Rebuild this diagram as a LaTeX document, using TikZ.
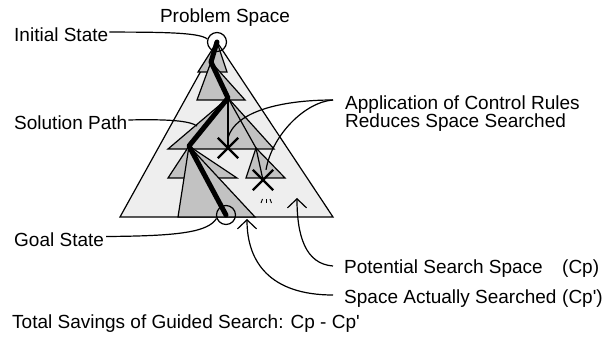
\documentclass[tikz,border=0pt]{standalone}
\usepackage{fontspec}
\newfontfamily\labfont{Liberation Sans}
\usetikzlibrary{arrows.meta,shapes.misc}
\definecolor{lightfill}{gray}{0.935}
\definecolor{treefill}{gray}{0.76}
\begin{document}
\begin{tikzpicture}[x=1pt,y=-1pt,
  lbl/.style={font=\labfont\fontsize{19}{18}\selectfont, inner sep=0pt, anchor=base west},
  space/.style={draw, line width=1.2pt, fill=lightfill, line join=miter},
  tier/.style={draw, line width=1.2pt, fill=treefill, line join=miter},
  branch/.style={line width=1.2pt},
  leader/.style={line width=1.2pt},
  barb/.style={-{Straight Barb[length=9pt,width=19pt,line width=1.2pt]}},
  crossmark/.style={cross out, draw, line width=2.4pt, minimum size=18pt, inner sep=0pt},
  statering/.style={circle, draw, line width=1.2pt, minimum size=19pt, inner sep=0pt},
  solpath/.style={line width=5pt, line cap=round, line join=round}]
\useasboundingbox (0,0) rectangle (608,339);

% tree nodes
\coordinate (R) at (217,42);
\coordinate (N1) at (211,62);
\coordinate (N2) at (228,98);
\coordinate (N3) at (189,146);
\coordinate (G) at (226,215);
\coordinate (M) at (256,148);

% potential search space
\draw[space] (R) -- (120,217) -- (333,217) -- cycle;

% space actually searched
\draw[tier] (R) -- (198,72) -- (227,72) -- cycle;
\draw[tier] (N1) -- (197,100) -- (245,100) -- cycle;
\draw[tier] (N2) -- (168,149) -- (274,149) -- cycle;
\draw[tier] (N3) -- (168,178) -- (237,178) -- cycle;
\draw[tier] (N3) -- (178,217) -- (255,217) -- cycle;
\draw[tier] (M) -- (246,178) -- (285,178) -- cycle;

% control rule cuts
\node[crossmark] (x1) at (228,148) {};
\node[crossmark] (x2) at (263,180) {};
\draw[branch] (N2) -- (x1.center);
\draw[branch] (N2) -- (M) -- (x2.center);

% ellipsis ticks
\draw[line width=0.9pt] (261,203) -- (262.5,199);
\draw[line width=0.9pt] (266,203) -- (266,199);
\draw[line width=0.9pt] (270,199) -- (271.5,203);

% solution path
\draw[solpath] (R) -- (N1) -- (N2) -- (N3) -- (G);
\node[statering] (init) at (R) {};
\node[statering] (goal) at (G) {};

% labels
\node[lbl, anchor=base] (title) at (225,22.7) {Problem Space};
\node[lbl] (initlbl) at (14,41.5) {Initial State};
\node[lbl] (sollbl) at (14,130) {Solution Path};
\node[lbl] (goallbl) at (14,247) {Goal State};
\node[lbl] (app1) at (345,110) {Application of Control Rules};
\node[lbl] (app2) at (345,128) {Reduces Space Searched};
\node[lbl] (pss) at (344,274) {Potential Search Space};
\node[lbl] (sas) at (344,303) {Space Actually Searched};
\node[lbl] (cpp) at ([xshift=5.3pt]sas.base east) {(Cp')};
\node[lbl] (cp) at (cpp.base west |- pss.base) {(Cp)};
\node[lbl] (total) at (12,328) {Total Savings of Guided Search: Cp - Cp'};

% leaders
\draw[leader] ([xshift=1pt,yshift=9.4pt]initlbl.base east) .. controls (170,32) and (200,33) .. (init.163);
\draw[leader] ([xshift=1pt,yshift=10pt]sollbl.base east) .. controls (170,119) and (190,121) .. (197,126);
\draw[leader] ([xshift=2pt,yshift=10.5pt]goallbl.base east) .. controls (180,236) and (208,232) .. (goal.200);
\coordinate (A0) at ([xshift=-12pt,yshift=10pt]app1.base west);
\draw[leader] (A0) .. controls (280,100) and (235,112) .. (x1.north);
\draw[leader] (A0) .. controls (305,102) and (272,135) .. ([xshift=3pt]x2.north);
\coordinate (pt) at (297,198);
\coordinate (st) at (247,219);
\draw[leader,barb] ([xshift=-11pt,yshift=8pt]pss.base west) .. controls (305,264) and (297,235) .. (pt);
\draw[leader,barb] ([xshift=-11pt,yshift=8pt]sas.base west) .. controls (270,295) and (247,262) .. (st);
\end{tikzpicture}
\end{document}
